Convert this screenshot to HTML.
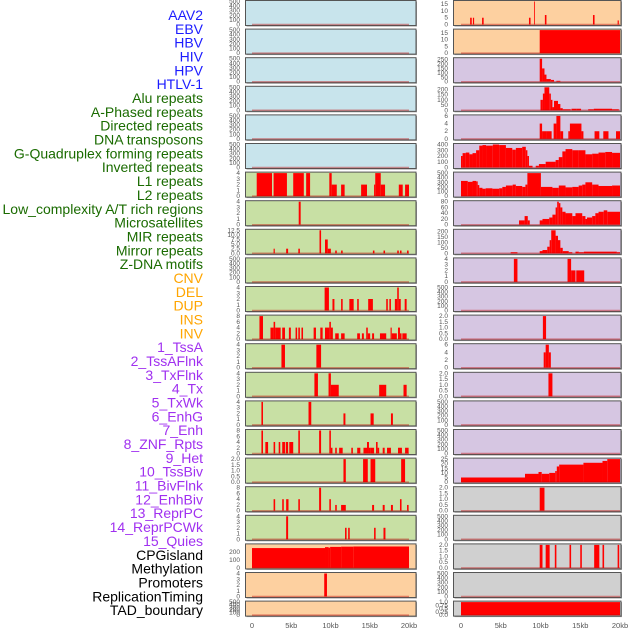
<!DOCTYPE html>
<html><head><meta charset="utf-8">
<style>
html,body{margin:0;padding:0;background:#fff;}
svg{display:block;font-family:"Liberation Sans",sans-serif;}
</style></head>
<body>
<svg id="chart" width="630" height="630" viewBox="0 0 630 630" xmlns="http://www.w3.org/2000/svg"></svg>
<script>
const trackLabels = ["AAV2","EBV","HBV","HIV","HPV","HTLV-1","Alu repeats","A-Phased repeats","Directed repeats","DNA transposons","G-Quadruplex forming repeats","Inverted repeats","L1 repeats","L2 repeats","Low_complexity A/T rich regions","Microsatellites","MIR repeats","Mirror repeats","Z-DNA motifs","CNV","DEL","DUP","INS","INV","1_TssA","2_TssAFlnk","3_TxFlnk","4_Tx","5_TxWk","6_EnhG","7_Enh","8_ZNF_Rpts","9_Het","10_TssBiv","11_BivFlnk","12_EnhBiv","13_ReprPC","14_ReprPCWk","15_Quies","CPGisland","Methylation","Promoters","ReplicationTiming","TAD_boundary"];
const labelColors = ["#1c1cff","#1c1cff","#1c1cff","#1c1cff","#1c1cff","#1c1cff","#1a6b00","#1a6b00","#1a6b00","#1a6b00","#1a6b00","#1a6b00","#1a6b00","#1a6b00","#1a6b00","#1a6b00","#1a6b00","#1a6b00","#1a6b00","#ffa500","#ffa500","#ffa500","#ffa500","#ffa500","#a030f0","#a030f0","#a030f0","#a030f0","#a030f0","#a030f0","#a030f0","#a030f0","#a030f0","#a030f0","#a030f0","#a030f0","#a030f0","#a030f0","#a030f0","#000","#000","#000","#000","#000"];
const xTickKb = [0,5,10,15,20];
const xTickLabels = ["0","5kb","10kb","15kb","20kb"];
const T500 = [0,100,200,300,400,500];
// left column panels: ymax, ticks, bars [startKb,endKb,value]
const leftYmax = [500,500,500,500,500,500,4,4,12.5,500,4,8,4,4,4,8,2,8,4,290,4,500];
const leftTicks = [T500,T500,T500,T500,T500,T500,[0,1,2,3,4],[0,1,2,3,4],[0,2.5,5,7.5,10,12.5],T500,[0,1,2,3,4],[0,2,4,6,8],[0,1,2,3,4],[0,1,2,3,4],[0,1,2,3,4],[0,2,4,6,8],[0,0.5,1,1.5,2],[0,2,4,6,8],[0,1,2,3,4],[0,100,200],[0,1,2,3,4],T500];
const leftBars = [[],[],[],[],[],[],
[[0.6,2.55,4],[2.75,4.45,4],[5.25,6.6,4],[6.9,7.4,4],[9.85,10.15,4],[10.15,10.8,2],[11.35,11.8,2],[13.9,14.65,2],[15.55,15.7,2],[15.7,16.4,4],[16.4,16.95,2],[18.7,19.2,2],[19.5,20,2]],
[[5.95,6.2,4]],
[[2.75,2.9,2.5],[4.35,4.6,2.5],[5.9,6.1,2.5],[8.6,8.8,12.5],[9.3,9.65,7.5],[9.65,10.05,2.5],[10.6,10.8,1.5],[11.35,11.55,1.5],[15.4,15.6,1.5],[16.75,16.95,1.5],[18.5,18.7,1.5],[18.85,19.05,1.5],[19.75,19.95,1.5]],
[],
[[9.25,9.8,4],[10.25,10.5,2],[11.35,11.55,2],[12.4,12.95,2],[13.4,13.6,2],[14.8,15.4,2],[17.1,17.3,2],[17.5,17.7,2],[18.2,18.5,2],[18.5,18.7,4],[18.7,18.95,2],[19.45,19.7,2]],
[[0.95,1.4,8],[2.35,2.75,4],[2.75,2.95,6],[2.95,3.65,4],[3.85,4.2,4],[4.7,4.95,4],[5.55,5.75,4],[5.9,6.1,4],[6.3,6.5,4],[7.85,8.15,4],[8.7,9.0,4],[9.3,9.85,4],[9.85,10.05,6],[10.05,10.3,4],[10.6,11.05,2],[11.35,11.8,2],[13.4,13.75,2],[14.0,14.25,2],[14.55,14.75,4],[14.75,15.05,2],[15.3,15.55,2],[16.3,17.1,2],[17.65,17.8,4],[17.8,18.45,2],[18.6,18.85,4],[18.85,19.05,2],[19.15,19.7,2]],
[[3.75,4.2,4],[8.2,8.8,4]],
[[7.95,8.4,4],[9.75,10.05,4],[10.05,11.05,2],[16.2,17.1,2],[19.3,19.7,2]],
[[1.2,1.4,4],[7.2,7.55,4],[11.65,11.9,2],[15.1,15.5,2],[17.7,17.95,2]],
[[1.2,1.4,8],[1.7,2.05,4],[2.75,2.95,4],[3.4,3.6,4],[3.85,4.2,4],[4.3,4.6,4],[4.75,5.25,4],[5.9,6.1,8],[8.55,8.8,8],[9.85,10.05,8],[10.05,10.25,2],[10.6,10.8,2],[11.1,11.55,2],[12.65,12.85,2],[13.4,13.8,2],[14.2,14.65,2],[14.65,14.9,4],[14.9,15.05,2],[15.05,15.55,2],[15.8,16.0,4],[16.0,16.2,2],[16.65,16.9,2],[17.2,17.7,2],[18.6,19.1,2],[19.5,19.95,2]],
[[11.65,11.95,2],[14.15,14.75,2],[15.1,15.7,2],[19.0,19.5,2]],
[[2.75,2.95,4],[3.85,4.05,4],[4.35,4.65,4],[5.9,6.1,4],[8.55,8.8,8],[9.85,10.05,4],[10.6,10.8,2],[11.35,11.95,2],[15.3,15.55,2],[16.65,16.9,2],[17.7,17.95,2],[18.85,19.05,4],[19.75,19.95,2]],
[[4.35,4.6,4],[11.85,12.05,2],[12.25,12.45,2],[15.55,15.75,2],[16.75,17.0,2]],
[[0,9.3,250],[9.3,9.75,262],[9.75,9.95,255],[9.95,11.35,265],[11.35,12.9,268],[12.9,20,270]],
[[9.2,9.55,4]],
[]];
const rightYmax = [17,17,260,220,6,400,500,80,210,4,500,2,6,2,500,500,25,2,500,2,500,1];
const rightTicks = [[0,5,10,15],[0,5,10,15],[0,50,100,150,200,250],[0,50,100,150,200],[0,2,4,6],[0,100,200,300,400],T500,[0,20,40,60,80],[0,50,100,150,200],[0,1,2,3,4],T500,[0,0.5,1,1.5,2],[0,2,4,6],[0,0.5,1,1.5,2],T500,T500,[0,5,10,15,20,25],[0,0.5,1,1.5,2],T500,[0,0.5,1,1.5,2],T500,[0,0.25,0.5,0.75,1]];
const rightBars = [
[[1.15,1.35,5],[1.5,1.65,5],[2.65,2.85,5],[8.55,8.75,5],[9.2,9.3,17],[10.55,10.75,7],[16.6,16.8,7],[19.7,19.85,3]],
[[9.9,20,17]],
[[9.9,10.2,260],[10.2,10.5,150],[10.5,10.75,80],[10.75,11.3,30],[11.3,11.7,20],[12.0,12.5,10]],
[[10.0,10.3,100],[10.3,10.5,160],[10.5,11.1,220],[11.1,11.3,160],[11.3,11.5,100],[11.5,11.7,30],[11.7,12.2,90],[12.2,12.5,60],[12.5,12.8,20],[12.8,13.8,10],[13.9,14.5,15],[14.5,15.1,15],[16.0,16.7,10],[16.7,19.0,15],[19.0,19.85,10]],
[[9.9,10.2,4],[10.2,10.7,2],[10.7,11.4,2],[11.65,12.0,4],[12.0,12.5,6],[12.5,12.85,2],[13.5,13.7,2],[13.7,15.15,4],[15.15,15.4,2],[16.8,17.4,2],[17.9,18.55,2],[19.5,20,2]],
[[0,0.2,200],[0.2,0.6,250],[0.6,1.05,260],[1.05,1.45,230],[1.45,1.9,250],[1.9,2.3,300],[2.3,2.7,380],[2.7,3.15,390],[3.15,4.0,380],[4.0,4.8,400],[4.8,5.65,390],[5.65,6.45,340],[6.45,6.9,310],[6.9,7.7,340],[7.7,8.15,360],[8.15,8.35,300],[8.35,8.55,200],[8.55,9.0,30],[9.4,9.8,30],[9.8,10.65,60],[10.65,11.9,100],[11.9,12.3,130],[12.3,12.75,180],[12.75,13.15,280],[13.15,14.0,320],[14.0,14.8,300],[14.8,15.65,300],[15.65,16.5,230],[16.5,17.3,240],[17.3,18.15,260],[18.15,19.0,270],[19.0,20,255]],
[[0,0.85,330],[0.85,1.45,310],[1.45,1.9,330],[1.9,2.1,320],[2.1,2.3,240],[2.3,2.7,180],[2.7,3.1,160],[3.1,3.95,170],[3.95,4.8,160],[4.8,5.2,170],[5.2,5.65,200],[5.65,6.5,230],[6.5,6.9,250],[6.9,7.7,220],[7.7,8.1,200],[8.1,8.35,250],[8.35,10.05,500],[10.05,11.5,200],[11.5,12.3,180],[12.3,13.15,230],[13.15,14.0,190],[14.0,14.8,200],[14.8,15.25,230],[15.25,15.65,250],[15.65,16.5,300],[16.5,17.3,250],[17.3,19.0,220],[19.0,20,230]],
[[7.3,8.0,15],[8.0,8.4,30],[8.4,8.65,15],[9.9,10.25,15],[10.25,11.1,20],[11.1,11.5,25],[11.5,11.9,35],[11.9,12.1,60],[12.1,12.3,80],[12.3,12.5,75],[12.5,12.75,60],[12.75,13.15,45],[13.15,14.0,40],[14.0,14.4,30],[14.4,15.25,40],[15.25,15.65,30],[15.65,15.85,20],[15.85,16.5,25],[16.5,16.9,30],[16.9,17.3,40],[17.3,17.95,45],[17.95,18.4,50],[18.4,20,45]],
[[6.25,7.1,10],[9.9,10.25,20],[10.25,10.85,30],[10.85,11.15,60],[11.15,11.35,120],[11.35,11.9,210],[11.9,12.2,160],[12.2,12.5,120],[12.5,12.8,50],[12.8,13.55,20],[13.55,14.0,10],[14.4,14.82,15],[14.82,15.45,10],[15.45,19.6,15],[19.6,20,10]],
[[6.65,7.1,4],[13.4,13.85,4],[13.85,14.4,2],[14.5,15.5,2]],
[],
[[10.3,10.7,2]],
[[10.4,10.65,4],[10.65,11.05,6],[11.05,11.3,4]],
[[11.0,11.5,2]],
[],[],
[[0,8.05,5],[8.05,9.75,9],[9.75,10.15,11],[10.15,11.1,9],[11.1,11.85,10],[11.85,12.05,12],[12.05,12.35,17],[12.35,15.4,19],[15.4,17.8,21],[17.8,18.4,23],[18.4,20,25]],
[[9.9,10.5,2]],
[],
[[9.9,10.25,2],[10.65,11.15,2],[11.8,12.0,2],[13.65,13.85,2],[15.0,15.2,2],[16.75,17.4,2],[17.8,18.0,2],[19.7,19.9,2]],
[],
[[0,20,1]]];
const leftBg = ["#c8e4ec","#c8e4ec","#c8e4ec","#c8e4ec","#c8e4ec","#c8e4ec","#c8e0a4","#c8e0a4","#c8e0a4","#c8e0a4","#c8e0a4","#c8e0a4","#c8e0a4","#c8e0a4","#c8e0a4","#c8e0a4","#c8e0a4","#c8e0a4","#c8e0a4","#fdd0a0","#fdd0a0","#fdd0a0"];
const rightBg = ["#fdd0a0","#fdd0a0","#d6c6e2","#d6c6e2","#d6c6e2","#d6c6e2","#d6c6e2","#d6c6e2","#d6c6e2","#d6c6e2","#d6c6e2","#d6c6e2","#d6c6e2","#d6c6e2","#d6c6e2","#d6c6e2","#d6c6e2","#d0d0d0","#d0d0d0","#d0d0d0","#d0d0d0","#d0d0d0"];

const svg = document.getElementById('chart');
const NS = 'http://www.w3.org/2000/svg';
function mk(tag, attrs, parent){const e=document.createElementNS(NS,tag);for(const k in attrs)e.setAttribute(k,attrs[k]);(parent||svg).appendChild(e);return e;}

// labels
trackLabels.forEach((t,i)=>{
  const el = mk('text',{x:203,y:15+i*13.84+5,'text-anchor':'end','font-size':14,fill:labelColors[i]});
  el.textContent = t;
  
  
});

const cols = [
  {px0:245.5, px1:416, x0:252, x1:409, tickX:240, ymax:leftYmax, ticks:leftTicks, bars:leftBars, bg:leftBg, name:'left'},
  {px0:453.5, px1:621, x0:461, x1:620, tickX:448, ymax:rightYmax, ticks:rightTicks, bars:rightBars, bg:rightBg, name:'right'}
];
function fmt(v, ticks){
  const dec = ticks.some(t=>t%1!==0);
  if(dec) return ticks.some(t=>Math.abs(t*10%1)>1e-9)? v.toFixed(2).replace(/0$/,'') : v.toFixed(1);
  return String(v);
}
cols.forEach(c=>{
  const xs = kb => c.x0 + kb/20*(c.x1-c.x0);
  for(let i=0;i<22;i++){
    const top = 0.5 + i*28.6;
    const h = i===21 ? 15 : 25;
    const g = mk('g',{});
    
    
    mk('rect',{x:c.px0+1,y:top+1,width:c.px1-c.px0,height:h,fill:'#999'},g);
    mk('rect',{x:c.px0,y:top,width:c.px1-c.px0,height:h,fill:c.bg[i],stroke:'#555','stroke-width':1},g);
    const yb = top + h - 1, yt = top + 1;
    const ys = v => yb - v/c.ymax[i]*(yb-yt);
    c.bars[i].forEach(b=>{
      const r = mk('rect',{x:xs(b[0]),y:ys(b[2]),width:Math.max(0.8,xs(b[1])-xs(b[0])),height:yb-ys(b[2]),fill:'#ff0000'},g);
      
      
    });
    mk('line',{x1:xs(0),x2:xs(20),y1:yb,y2:yb,stroke:'rgba(190,0,0,0.4)','stroke-width':1.5},g);
    c.ticks[i].forEach(t=>{
      const tx = mk('text',{x:c.tickX,y:ys(t)+2,'text-anchor':'end','font-size':6.5,fill:'#555'},g);
      tx.textContent = fmt(t,c.ticks[i]);
      
      
    });
  }
  xTickKb.forEach((k,j)=>{
    const tx = mk('text',{x:xs(k),y:628,'text-anchor':'middle','font-size':7.5,fill:'#555'});
    tx.textContent = xTickLabels[j];
    
    
  });
});
</script>
</body></html>
